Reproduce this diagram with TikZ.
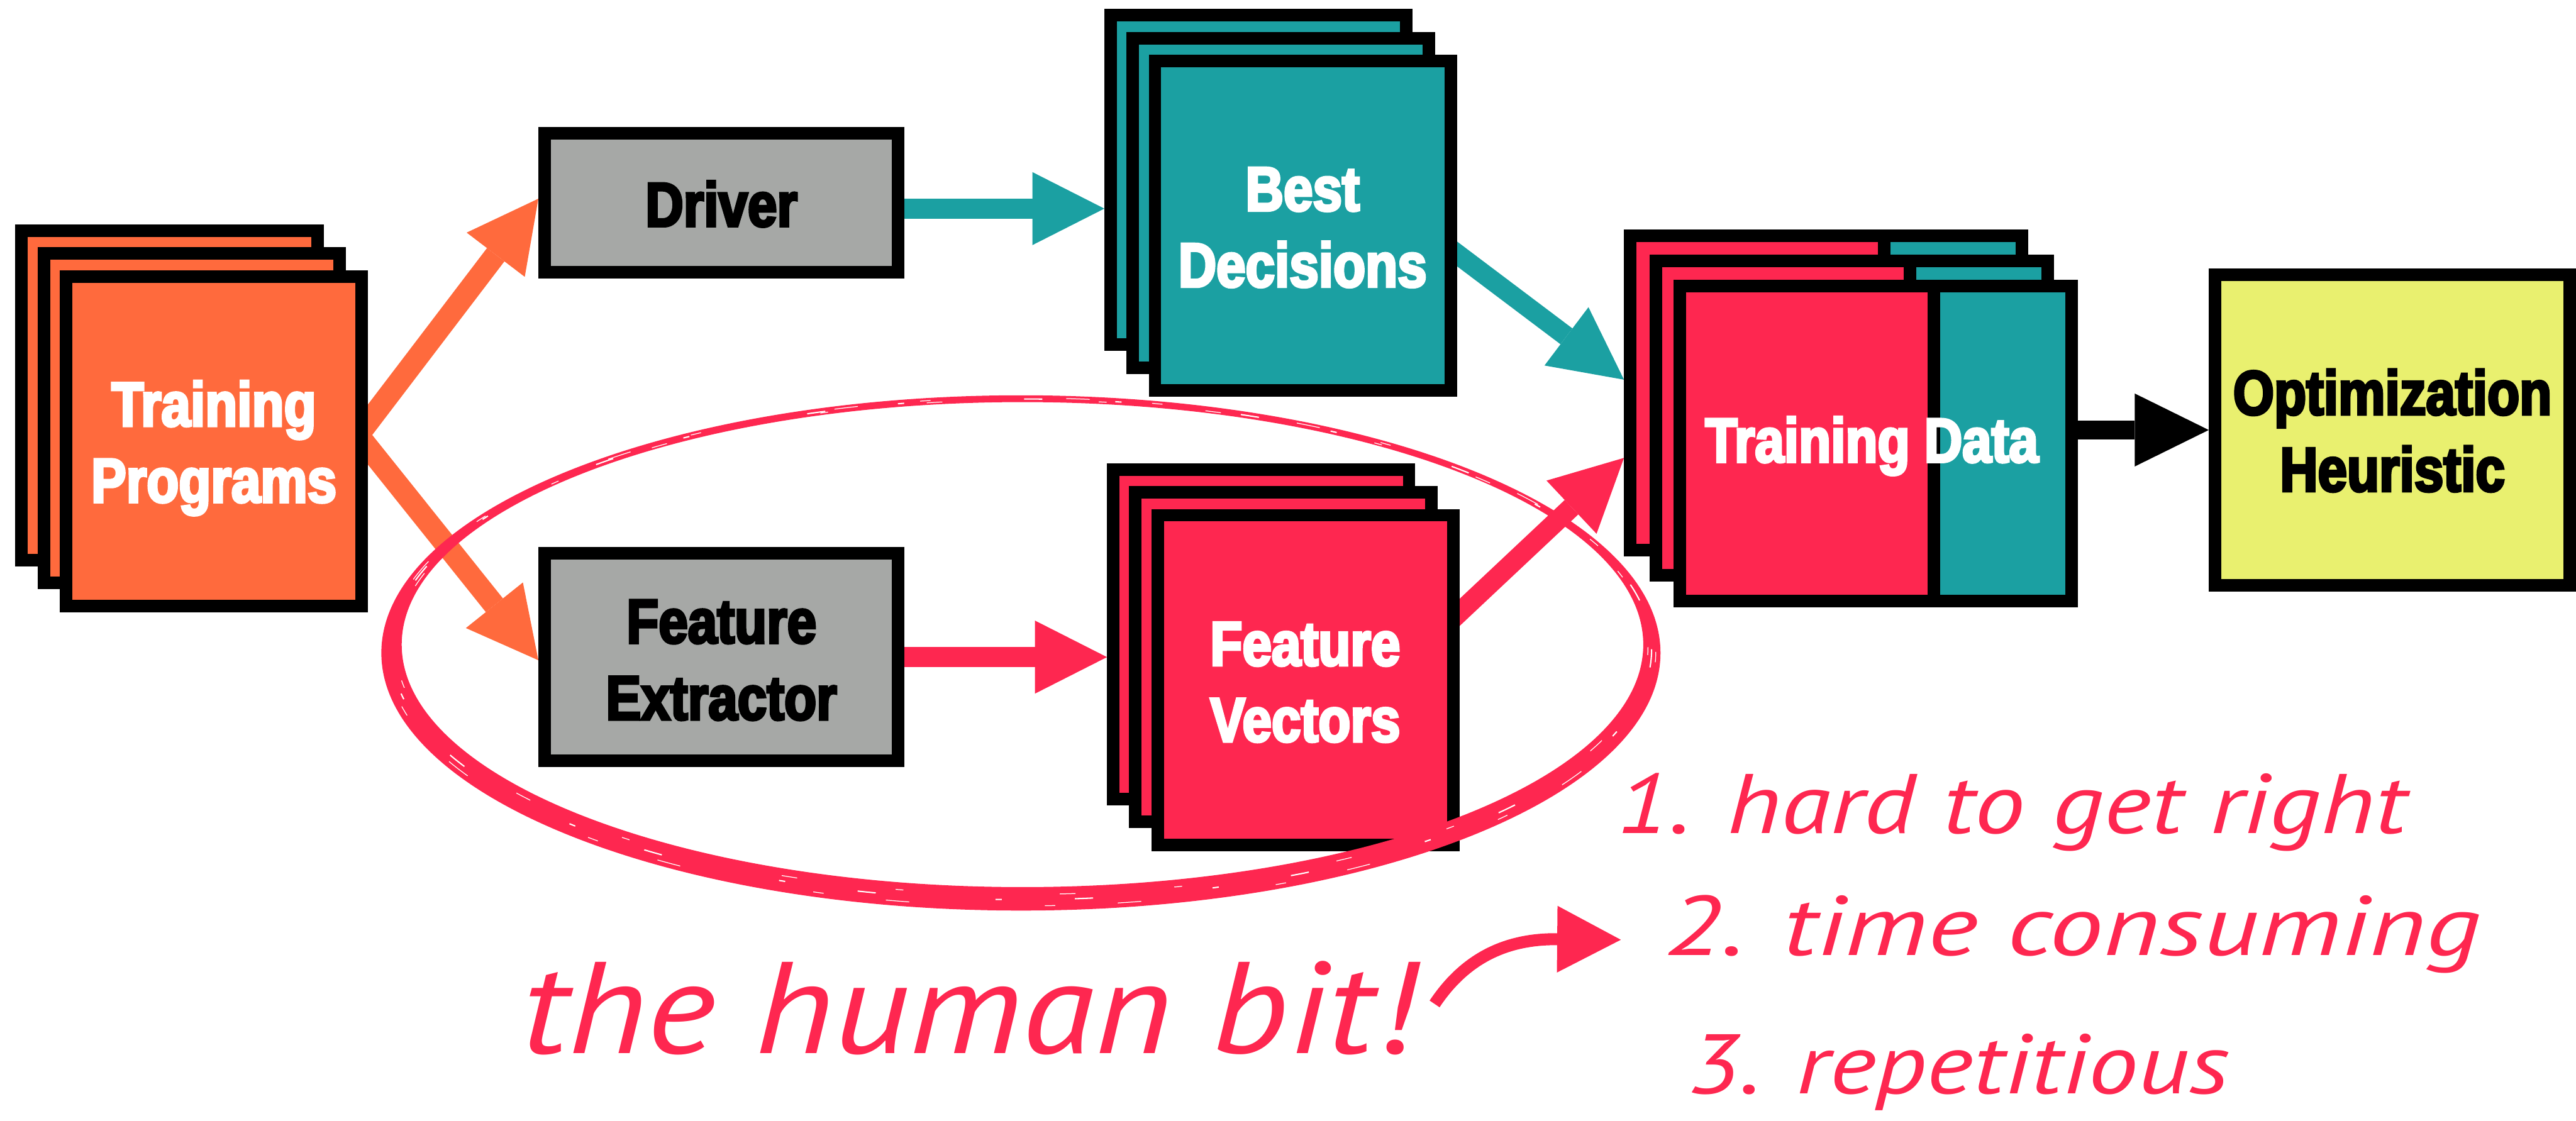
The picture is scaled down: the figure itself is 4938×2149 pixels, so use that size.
\documentclass[tikz,border=0pt]{standalone}
\usepackage{fontspec}
\usepackage{graphicx}
\usetikzlibrary{arrows.meta}
\newfontfamily\boxfont[FakeStretch=0.84, FakeBold=4]{Liberation Sans}
\newfontfamily\handfont{PT Sans}

\definecolor{progorange}{RGB}{255,106,61}
\definecolor{decteal}{RGB}{27,160,162}
\definecolor{featpink}{RGB}{254,39,80}
\definecolor{toolgray}{RGB}{166,168,166}
\definecolor{heurlime}{RGB}{233,240,111}

\pgfdeclarelayer{arrowlayer}
\pgfsetlayers{arrowlayer,main}

\tikzset{
  stack/.style={draw=black, line width=24pt, fill=#1, inner sep=0pt,
    minimum width=567pt, minimum height=632pt},
  toolbox/.style={draw=black, line width=24pt, fill=toolgray, inner sep=0pt},
  datacard/.style={draw=black, line width=24pt, fill=featpink, inner sep=0pt,
    minimum width=751pt, minimum height=603pt},
  boxtext/.style={anchor=base, inner sep=0pt,
    font=\boxfont\bfseries\fontsize{120}{144}\selectfont},
  handtext/.style={anchor=base west, inner sep=0pt, text=featpink},
  flow/.style={line width=38pt,
    -{Triangle[length=138pt, width=140pt, line width=0pt]}},
  brushstreak/.style={white, line width=2.5pt},
}

% one card of the training data stack: features on the left, decisions on the right
\newcommand\trainingcard[3]{%
  \node[datacard] (#1) at (#2,#3) {};
  \fill[decteal] ([shift={(511pt,-24pt)}]#1.north west)
    rectangle ([shift={(-24pt,24pt)}]#1.south east);
  \fill[black] ([xshift=487pt]#1.north west) rectangle ([xshift=511pt]#1.south west);
}

\begin{document}
\begin{tikzpicture}[x=1pt,y=-1pt]
\useasboundingbox (0,0) rectangle (4938,2149);

% training programs
\node[stack=progorange] (tp1) at (325,758) {};
\node[stack=progorange] (tp2) at (367.5,802) {};
\node[stack=progorange] (tp)  at (410,846) {};

% tools
\node[toolbox, minimum width=678pt, minimum height=266pt] (drv) at (1383,389) {};
\node[toolbox, minimum width=678pt, minimum height=398pt] (fe)  at (1383,1260) {};

% best decisions
\node[stack=decteal] (bd1) at (2412.5,345) {};
\node[stack=decteal] (bd2) at (2455,389) {};
\node[stack=decteal] (bd)  at (2497.5,433) {};

% feature vectors
\node[stack=featpink] (fv1) at (2417.5,1216) {};
\node[stack=featpink] (fv2) at (2460,1260) {};
\node[stack=featpink] (fv)  at (2502.5,1304) {};

% training data
\trainingcard{td1}{3500.5}{753.5}
\trainingcard{td2}{3549.5}{801.5}
\trainingcard{td}{3595.5}{850.5}

% optimization heuristic
\node[toolbox, fill=heurlime, minimum width=680pt, minimum height=595pt] (oh) at (4586,824.5) {};

% connectors, kept underneath the boxes
\begin{pgfonlayer}{arrowlayer}
\draw[progorange, line width=42pt, -{Triangle[length=135pt, width=140pt, line width=0pt]}]
  ([xshift=-40pt, yshift=-16.5pt]tp.east) -- ([yshift=8pt]drv.west);
\draw[progorange, line width=42pt, -{Triangle[length=135pt, width=140pt, line width=0pt]}]
  ([xshift=-40pt, yshift=38.4pt]tp.east) -- ([yshift=-6pt]fe.west);
\draw[flow, decteal] ([xshift=-30pt, yshift=-11pt]drv.east) -- ([yshift=-11pt]drv.east -| bd1.west);
\draw[flow, featpink] ([xshift=-30pt]fe.east) -- (fe.east -| fv1.west);
\draw[flow, decteal] ([xshift=-40pt, yshift=-23.7pt]bd.east) -- ([yshift=25.5pt]td1.west);
\draw[flow, featpink] ([xshift=-40pt, yshift=92.2pt]fv.east) -- ([yshift=-124.5pt]td1.west);
\draw[black, line width=37pt, -{Triangle[length=142pt, width=140pt, line width=0pt]}]
  ([xshift=-30pt]td.east |- oh.west) -- (oh.west);
\end{pgfonlayer}

% box labels
\node[boxtext, text=white] (tpa) at (410,817) {Training};
\node[boxtext, text=white] (tpb) at (410,963) {Programs};
\node[boxtext] (drva) at (1383,434) {Driver};
\node[boxtext] (fea) at (1383,1233) {Feature};
\node[boxtext] (feb) at (1383,1380) {Extractor};
\node[boxtext, text=white] (bda) at (2497,404) {Best};
\node[boxtext, text=white] (bdb) at (2497,550) {Decisions};
\node[boxtext, text=white] (fva) at (2502,1276) {Feature};
\node[boxtext, text=white] (fvb) at (2502,1422) {Vectors};
\node[boxtext, text=white] (tda) at (3588,886) {Training Data};
\node[boxtext] (oha) at (4586,795) {Optimization};
\node[boxtext] (ohb) at (4586,942) {Heuristic};

% hand-drawn loop around the feature extraction
\fill[featpink, even odd rule]
  (1957,1252) ellipse [x radius=1226, y radius=494]
  (1960,1236) ellipse [x radius=1190, y radius=465];
\draw[brushstreak, dash pattern=on 35pt off 140pt on 12pt off 230pt]
  (1958,1245) ellipse [x radius=1208, y radius=480];
\draw[brushstreak, line width=1.5pt, dash pattern=on 20pt off 260pt on 45pt off 120pt]
  (1958,1250) ellipse [x radius=1216, y radius=487];
\draw[brushstreak, line width=1.5pt, dash pattern=on 15pt off 190pt on 30pt off 300pt]
  (1959,1241) ellipse [x radius=1200, y radius=474];

% handwritten notes
\node[handtext] (human) at (1000,2020)
  {\resizebox{1711pt}{\height}{\handfont\itshape\fontsize{250}{300}\selectfont the human bit!}};
\coordinate (hbtail) at (2750,1925);
\coordinate (hbtip) at (3107,1802);
\draw[featpink, line width=23pt, -{Triangle[length=122pt, width=128pt, line width=0pt]}]
  (hbtail) .. controls (2810,1835) and (2890,1800) .. (hbtip);
\node[handtext] (noteone) at (3099,1598)
  {\resizebox{1514pt}{\height}{\handfont\itshape\fontsize{162}{194}\selectfont 1. hard to get right}};
\node[handtext] (notetwo) at (3192,1832)
  {\resizebox{1563pt}{\height}{\handfont\itshape\fontsize{162}{194}\selectfont 2. time consuming}};
\node[handtext] (notethree) at (3235,2097)
  {\resizebox{1038pt}{\height}{\handfont\itshape\fontsize{162}{194}\selectfont 3. repetitious}};
\end{tikzpicture}
\end{document}
